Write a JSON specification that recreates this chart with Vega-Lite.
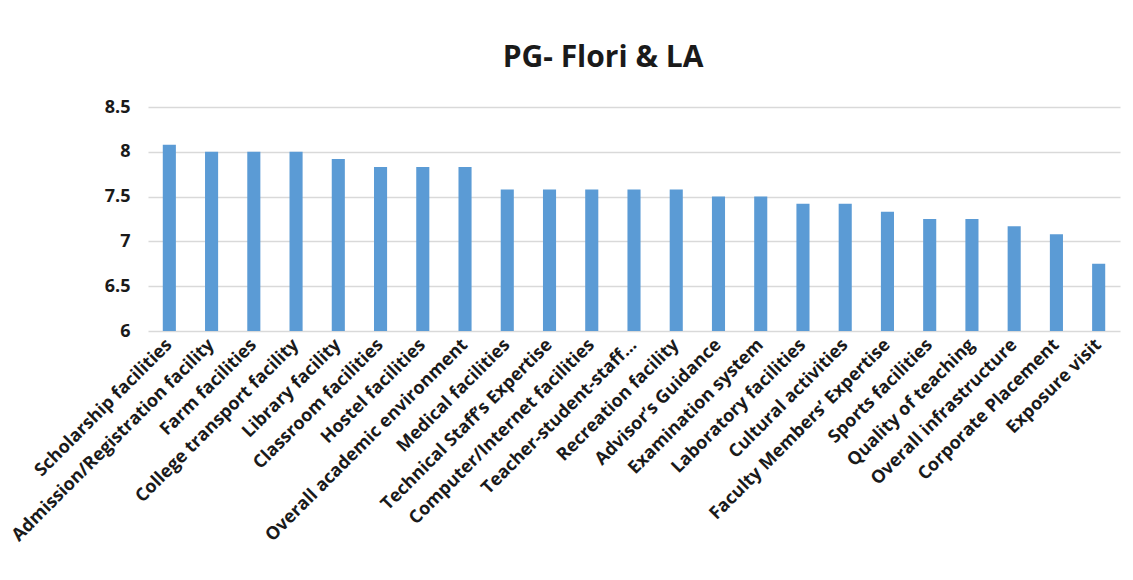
{
  "$schema": "https://vega.github.io/schema/vega-lite/v6.json",
  "autosize": {"type": "none"},
  "width": 972,
  "height": 224,
  "padding": {"left": 148, "top": 107, "right": 13, "bottom": 249},
  "background": "white",
  "title": {
    "text": "PG- Flori & LA",
    "fontSize": 30,
    "fontWeight": "bold",
    "font": "Open Sans",
    "color": "#1a1a1a",
    "anchor": "middle",
    "baseline": "alphabetic",
    "dx": -31,
    "offset": 1
  },
  "data": {
    "values": [
      {"item": "Scholarship facilities", "score": 8.08},
      {"item": "Admission/Registration facility", "score": 8.0},
      {"item": "Farm facilities", "score": 8.0},
      {"item": "College transport facility", "score": 8.0},
      {"item": "Library facility", "score": 7.92},
      {"item": "Classroom facilities", "score": 7.83},
      {"item": "Hostel facilities", "score": 7.83},
      {"item": "Overall academic environment", "score": 7.83},
      {"item": "Medical facilities", "score": 7.58},
      {"item": "Technical Staff’s Expertise", "score": 7.58},
      {"item": "Computer/Internet facilities", "score": 7.58},
      {"item": "Teacher-student-staff…", "score": 7.58},
      {"item": "Recreation facility", "score": 7.58},
      {"item": "Advisor’s Guidance", "score": 7.5},
      {"item": "Examination system", "score": 7.5},
      {"item": "Laboratory facilities", "score": 7.42},
      {"item": "Cultural activities", "score": 7.42},
      {"item": "Faculty Members’ Expertise", "score": 7.33},
      {"item": "Sports facilities", "score": 7.25},
      {"item": "Quality of teaching", "score": 7.25},
      {"item": "Overall infrastructure", "score": 7.17},
      {"item": "Corporate Placement", "score": 7.08},
      {"item": "Exposure visit", "score": 6.75}
    ]
  },
  "mark": {"type": "bar", "color": "#5B9BD5", "clip": true},
  "encoding": {
    "x": {
      "field": "item",
      "type": "nominal",
      "sort": null,
      "title": null,
      "scale": {"paddingInner": 0.69, "paddingOuter": 0.35},
      "axis": {
        "labelAngle": -45,
        "labelAlign": "right",
        "labelBaseline": "middle",
        "labelFont": "Open Sans",
        "labelFontWeight": "bold",
        "labelFontSize": 18,
        "labelColor": "#1a1a1a",
        "labelPadding": 11,
        "labelLimit": 400,
        "labelOverlap": false,
        "domain": false,
        "ticks": false,
        "grid": false
      }
    },
    "y": {
      "field": "score",
      "type": "quantitative",
      "title": null,
      "scale": {"domain": [6, 8.5], "zero": false, "nice": false},
      "axis": {
        "values": [6, 6.5, 7, 7.5, 8, 8.5],
        "format": "~g",
        "labelFont": "Open Sans",
        "labelFontWeight": "bold",
        "labelFontSize": 18,
        "labelColor": "#1a1a1a",
        "labelPadding": 18,
        "domain": false,
        "ticks": false,
        "grid": true,
        "gridColor": "#d9d9d9",
        "gridWidth": 1.5
      }
    }
  },
  "config": {"view": {"stroke": null}}
}
